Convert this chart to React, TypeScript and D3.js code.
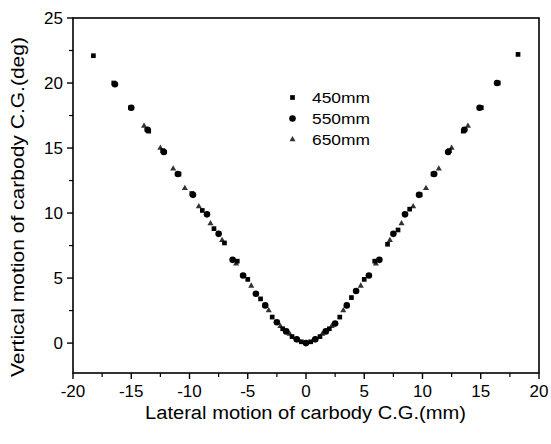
import React from "react";
import * as d3 from "d3";

const xTicks = [-20, -15, -10, -5, 0, 5, 10, 15, 20];
const yTicks = [0, 5, 10, 15, 20, 25];
const xMinor = [-17.5, -12.5, -7.5, -2.5, 2.5, 7.5, 12.5, 17.5];
const yMinor = [2.5, 7.5, 12.5, 17.5, 22.5];

const s450x = [-18.25, -16.5, -15.05, -13.5, -12.3, -10.9, -9.8, -8.9, -7.9, -7.0, -5.9, -5.0, -3.9, -2.9, -2.0, -1.2, -0.4, 0.4, 1.2, 2.0, 2.9, 3.9, 5.0, 5.9, 7.0, 7.9, 8.9, 9.8, 10.9, 12.3, 13.5, 15.05, 16.5, 18.2];
const s450y = [22.1, 20.0, 18.1, 16.3, 14.8, 13.0, 11.5, 10.2, 8.8, 7.7, 6.3, 4.9, 3.4, 2.0, 1.1, 0.5, 0.1, 0.1, 0.5, 1.1, 2.0, 3.5, 4.9, 6.3, 7.6, 8.7, 10.3, 11.4, 13.0, 14.8, 16.3, 18.1, 20.0, 22.2];

const s550x = [-16.4, -15.0, -13.6, -12.2, -11.0, -9.7, -8.5, -7.5, -6.3, -5.4, -4.3, -3.5, -2.5, -1.7, -0.8, 0, 0.8, 1.7, 2.5, 3.5, 4.3, 5.4, 6.3, 7.5, 8.5, 9.7, 11.0, 12.2, 13.6, 14.9, 16.4];
const s550y = [19.9, 18.1, 16.4, 14.7, 13.0, 11.4, 9.9, 8.4, 6.4, 5.2, 3.8, 2.9, 1.6, 0.9, 0.3, 0, 0.3, 0.9, 1.5, 2.9, 4.0, 5.2, 6.4, 8.4, 9.9, 11.4, 13.0, 14.7, 16.4, 18.1, 20.0];

const s650x = [-13.9, -12.5, -11.4, -10.4, -9.2, -8.2, -7.2, -6.0, -4.7, -3.2, -2.2, -1.4, -0.6, 0.6, 1.4, 2.2, 3.2, 4.7, 6.0, 7.2, 8.2, 9.2, 10.3, 11.4, 12.5, 13.9];
const s650y = [16.7, 15.0, 13.4, 11.9, 10.5, 9.2, 7.9, 6.1, 4.4, 2.5, 1.3, 0.7, 0.2, 0.2, 0.7, 1.3, 2.5, 4.4, 6.1, 7.9, 9.2, 10.5, 11.9, 13.4, 15.0, 16.7];

const legendLabels = ["450mm", "550mm", "650mm"];

const W = 551, H = 444;
const L = 73, R = 539, T = 18, B = 373;

export default function App() {
  const x = d3.scaleLinear().domain([-20, 20]).range([L, R]);
  const y = d3.scaleLinear().domain([-2.3, 25]).range([B, T]);
  const font = "'Liberation Sans', Arial, sans-serif";
  const sq = d3.symbol().type(d3.symbolSquare).size(22)()!;
  const ci = d3.symbol().type(d3.symbolCircle).size(34)()!;
  const tr = d3.symbol().type(d3.symbolTriangle).size(16)()!;

  return (
    <svg width={W} height={H} style={{ position: "absolute", left: 0, top: 0, background: "#fff" }}>
      <rect x={0} y={0} width={W} height={H} fill="#fff" />
      <rect x={L} y={T} width={R - L} height={B - T} fill="none" stroke="#000" strokeWidth={1.6} />
      {xTicks.map((t) => (
        <g key={"xt" + t}>
          <line x1={x(t)} x2={x(t)} y1={B} y2={B + 6} stroke="#000" strokeWidth={1.4} />
          <text x={x(t)} y={B + 24} textAnchor="middle" fontFamily={font} fontSize={17}>{t}</text>
        </g>
      ))}
      {xMinor.map((t) => (
        <line key={"xm" + t} x1={x(t)} x2={x(t)} y1={B} y2={B + 4} stroke="#000" strokeWidth={1.2} />
      ))}
      {yTicks.map((t) => (
        <g key={"yt" + t}>
          <line x1={L - 6} x2={L} y1={y(t)} y2={y(t)} stroke="#000" strokeWidth={1.4} />
          <text x={L - 10} y={y(t) + 6} textAnchor="end" fontFamily={font} fontSize={17}>{t}</text>
        </g>
      ))}
      {yMinor.map((t) => (
        <line key={"ym" + t} x1={L - 4} x2={L} y1={y(t)} y2={y(t)} stroke="#000" strokeWidth={1.2} />
      ))}
      <text x={145} y={419} fontFamily={font} fontSize={18} textLength={321} lengthAdjust="spacingAndGlyphs">
        Lateral motion of carbody C.G.(mm)
      </text>
      <text transform={`translate(24,377) rotate(-90)`} fontFamily={font} fontSize={18} textLength={340} lengthAdjust="spacingAndGlyphs">
        Vertical motion of carbody C.G.(deg)
      </text>
      {s650x.map((v, i) => (
        <path key={"t" + i} d={tr} transform={`translate(${x(v)},${y(s650y[i])})`} fill="#333" />
      ))}
      {s550x.map((v, i) => (
        <path key={"c" + i} d={ci} transform={`translate(${x(v)},${y(s550y[i])})`} fill="#000" />
      ))}
      {s450x.map((v, i) => (
        <path key={"s" + i} d={sq} transform={`translate(${x(v)},${y(s450y[i])})`} fill="#000" />
      ))}
      {legendLabels.map((lab, i) => {
        const ly = 97.5 + i * 21;
        const d = i === 0 ? sq : i === 1 ? ci : tr;
        return (
          <g key={lab}>
            <path d={d} transform={`translate(292.5,${ly})`} fill={i === 2 ? "#333" : "#000"} />
            <text x={312} y={ly + 5} fontFamily={font} fontSize={14} textLength={58} lengthAdjust="spacingAndGlyphs">{lab}</text>
          </g>
        );
      })}
    </svg>
  );
}
